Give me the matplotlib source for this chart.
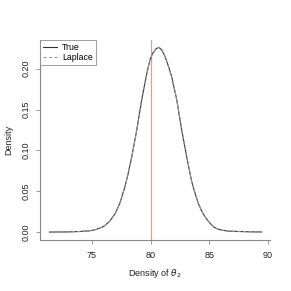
import matplotlib
matplotlib.use("Agg")
import matplotlib.pyplot as plt

plt.rcParams["font.family"] = ["Liberation Sans", "DejaVu Sans"]

# density curve
theta = [71.4, 73.0, 74.0, 74.8, 75.4, 76.0, 76.5, 77.0, 77.4, 77.83, 78.1, 78.4,
         78.83, 79.25, 79.68, 79.96, 80.2, 80.45, 80.7, 80.95, 81.23, 81.5, 81.8,
         82.23, 82.65, 83.08, 83.5, 83.8, 84.07, 84.35, 84.63, 85.0, 85.34, 85.7,
         86.1, 86.6, 87.5, 88.5, 89.45]
dens_true = [0.0003, 0.0005, 0.0010, 0.0018, 0.0035, 0.007, 0.013, 0.023, 0.036,
             0.056, 0.072, 0.092, 0.125, 0.162, 0.194, 0.211, 0.219, 0.224, 0.226,
             0.223, 0.215, 0.204, 0.190, 0.162, 0.125, 0.092, 0.062, 0.047, 0.035,
             0.026, 0.019, 0.012, 0.0068, 0.0040, 0.0025, 0.0015, 0.0010, 0.0006,
             0.0004]
dens_laplace = list(dens_true)
ref_value = 80.0

xticks = [75, 80, 85, 90]
yticks = [0.00, 0.05, 0.10, 0.15, 0.20]

fig = plt.figure(figsize=(2.91, 2.91), dpi=100)
ax = fig.add_axes([40/291, 51/291, 230/291, 200/291])

ax.plot(theta, dens_true, color="#333333", lw=0.8, label="True")
ax.plot(theta, dens_laplace, color="#9a9a9a", lw=0.8, ls=(0, (3, 2)), label="Laplace")
ax.axvline(ref_value, color="#ff8c9c", lw=0.9, zorder=1)

ax.set_xlim(70.6, 90.16)
ax.set_ylim(-0.0094, 0.235)
ax.set_xticks(xticks)
ax.set_xticklabels([str(v) for v in xticks])
ax.set_yticks(yticks)
ax.set_yticklabels([f"{v:.2f}" for v in yticks], rotation=90, va="center")

for s in ["top", "right"]:
    ax.spines[s].set_visible(False)
for s in ["left", "bottom"]:
    ax.spines[s].set_color("#888888")
    ax.spines[s].set_linewidth(0.8)
ax.tick_params(axis="both", length=3, width=0.6, color="#888888", labelsize=6.5,
               labelcolor="#222222", pad=5)
ax.tick_params(axis="y", pad=4)

ax.set_xlabel(r"Density of $\theta_2$", fontsize=6.5, color="#222222", labelpad=5)
ax.set_ylabel("Density", fontsize=6.5, color="#222222", labelpad=6)

leg = ax.legend(loc="upper left", fontsize=6.3, frameon=True, fancybox=False,
                borderaxespad=0, handlelength=1.6, handletextpad=0.6,
                borderpad=0.35, labelspacing=0.15)
leg.get_frame().set_edgecolor("#888888")
leg.get_frame().set_linewidth(0.7)

fig.savefig("out.png", dpi=100)
